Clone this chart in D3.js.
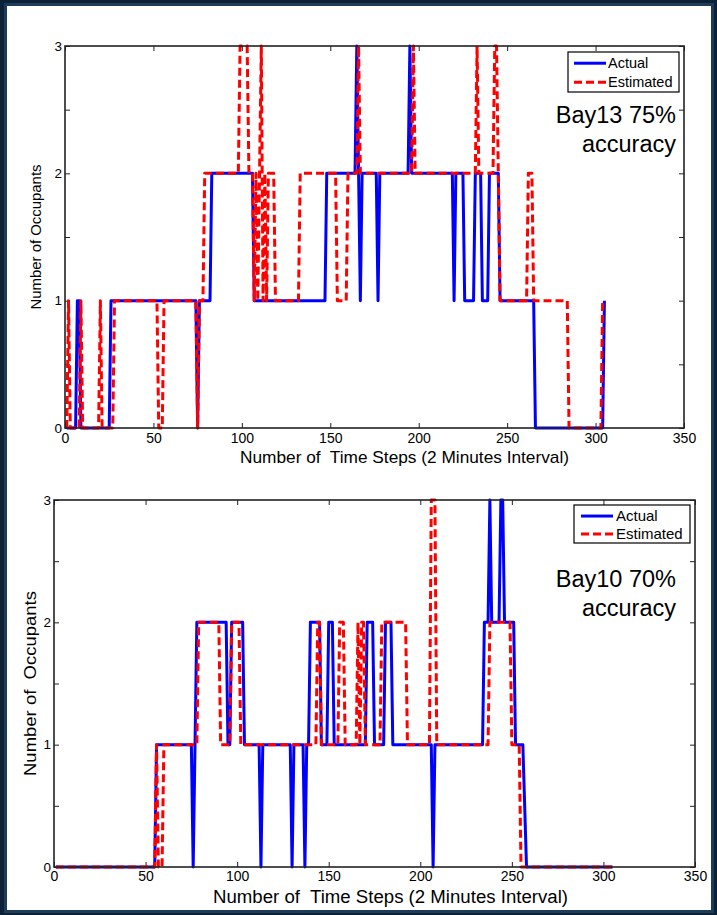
<!DOCTYPE html>
<html>
<head>
<meta charset="utf-8">
<script src="https://cdn.jsdelivr.net/npm/d3@7"></script>
<style>
  html, body { margin: 0; padding: 0; background: #0d2238; }
  svg { display: block; }
  text { font-family: "Liberation Sans", Arial, Helvetica, sans-serif; fill: #000; }
</style>
</head>
<body>
<svg id="chart" width="717" height="915"></svg>
<script>
// ---------------- DATA ----------------
const xTicks = [0, 50, 100, 150, 200, 250, 300, 350];
const yTicks = [0, 0.5, 1, 1.5, 2, 2.5, 3];
const yTickLabels = [0, 1, 2, 3];
const seriesNames = ["Actual", "Estimated"];
const xTitle = "Number of  Time Steps (2 Minutes Interval)";

// Bay13 (top) – vertices of the polylines [time step, occupants]
const bay13Actual = [
  [1,0],[6,0],[7,1],[8,1],[9,0],[25,0],[26,1],[74,1],[75,0],[76,1],[82,1],[83,2],
  [106,2],[107,1],[147,1],[148,2],[164,2],[165,3],[166,2],[167,1],[168,2],[176,2],
  [177,1],[178,2],[194,2],[195,3],[196,2],[219,2],[220,1],[221,2],[225,2],[226,1],
  [231,1],[232,2],[235,2],[236,1],[239,1],[240,2],[245,2],[246,1],[265,1],[266,0],
  [304,0],[305,1]
];
const bay13Estimated = [
  [1,0],[2,1],[3,0],[8,0],[9,1],[10,0],[19,0],[20,1],[21,0],[27,0],[28,1],[52,1],
  [53,0],[55,0],[56,1],[74,1],[75,0],[76,1],[78,1],[79,2],[98,2],[99,3],[103,3],
  [104,2],[106,2],[107,1],[108,2],[109,1],[110,2],[111,3],[112,1],[113,2],[114,1],
  [115,2],[118,2],[119,1],[132,1],[133,2],[153,2],[154,1],[159,1],[160,2],[165,2],
  [166,3],[167,2],[196,2],[197,3],[198,2],[232,2],[233,3],[234,2],[242,2],[243,3],
  [244,3],[245,2],[246,1],[261,1],[262,2],[264,2],[265,1],[284,1],[285,0],[303,0],
  [304,1]
];

// Bay10 (bottom)
const bay10Actual = [
  [1,0],[55,0],[56,1],[75,1],[76,0],[77,1],[78,2],[94,2],[95,1],[96,1],[97,2],
  [103,2],[104,1],[112,1],[113,0],[114,1],[129,1],[130,0],[131,1],[136,1],[137,0],
  [138,1],[139,1],[140,2],[145,2],[146,1],[149,1],[150,2],[152,2],[153,1],[170,1],
  [171,2],[174,2],[175,1],[180,1],[181,2],[184,2],[185,1],[206,1],[207,0],[208,1],
  [234,1],[235,2],[237,2],[238,3],[239,2],[243,2],[244,3],[245,3],[246,2],[251,2],
  [252,1],[256,1],[258,0],[305,0]
];
const bay10Estimated = [
  [1,0],[55,0],[56,1],[57,0],[59,0],[60,1],[78,1],[79,2],[90,2],[91,1],[96,1],
  [97,2],[101,2],[102,1],[143,1],[144,2],[145,2],[146,1],[155,1],[156,2],[158,2],
  [159,1],[165,1],[166,2],[167,1],[168,2],[169,2],[170,1],[178,1],[179,2],[192,2],
  [193,1],[205,1],[206,3],[208,3],[209,1],[237,1],[238,2],[249,2],[250,1],[254,1],
  [255,0],[305,0]
];

// ---------------- LAYOUT ----------------
const panels = [
  { actual: bay13Actual, estimated: bay13Estimated,
    x0: 65, x1: 684, yTop: 46, yBot: 428,
    yTitle: "Number of Occupants", yTitleX: 36, yTitleSize: 14.5, yTitleLen: 145,
    xTitleY: 463, xTitleSize: 17, xTitleLen: 329, xTitleX: 240,
    tickSize: 14, yTickSize: 13.5, tickPad: 5,
    note: ["Bay13 75%", "accuracy"], noteX: 676, noteY: [123, 152], noteSize: 23.5,
    legend: { x: 568, y: 52, w: 111, h: 40, fs: 14.5, lx0: 574, lx1: 606, tx: 608, ty: [68, 87] } },
  { actual: bay10Actual, estimated: bay10Estimated,
    x0: 54, x1: 695, yTop: 500, yBot: 867,
    yTitle: "Number of  Occupants", yTitleX: 30, yTitleSize: 16.5, yTitleLen: 185,
    xTitleY: 903, xTitleSize: 18, xTitleLen: 355, xTitleX: 213,
    tickSize: 14, yTickSize: 13.5, tickPad: 4,
    note: ["Bay10 70%", "accuracy"], noteX: 676, noteY: [587, 616], noteSize: 23.5,
    legend: { x: 574, y: 505, w: 116, h: 38, fs: 15, lx0: 581, lx1: 613, tx: 616, ty: [521, 539] } }
];

const svg = d3.select("#chart");

// background frame
svg.append("rect").attr("x", 0).attr("y", 0).attr("width", 717).attr("height", 915).attr("fill", "#0c2036");
svg.append("rect").attr("x", 4).attr("y", 3).attr("width", 710).attr("height", 910).attr("fill", "#1d3b5b");
svg.append("rect").attr("x", 7).attr("y", 6).attr("width", 704).attr("height", 904).attr("fill", "#ffffff");

panels.forEach(p => {
  const g = svg.append("g");
  const x = d3.scaleLinear().domain([0, 350]).range([p.x0, p.x1]);
  const y = d3.scaleLinear().domain([0, 3]).range([p.yBot, p.yTop]);

  // axes with inward ticks
  const fmtY = d => (yTickLabels.includes(d) ? String(d) : "");
  const axB = g.append("g").attr("transform", `translate(0,${p.yBot})`)
    .call(d3.axisBottom(x).tickValues(xTicks).tickSizeInner(-5).tickSizeOuter(0).tickPadding(p.tickPad));
  axB.selectAll("text").attr("font-size", p.tickSize).attr("font-family", null);
  const axT = g.append("g").attr("transform", `translate(0,${p.yTop})`)
    .call(d3.axisTop(x).tickValues(xTicks).tickSizeInner(-5).tickSizeOuter(0).tickFormat(""));
  const axL = g.append("g").attr("transform", `translate(${p.x0},0)`)
    .call(d3.axisLeft(y).tickValues(yTicks).tickSizeInner(-5).tickSizeOuter(0).tickPadding(3).tickFormat(fmtY));
  axL.selectAll("text").attr("font-size", p.yTickSize).attr("font-family", null);
  const axR = g.append("g").attr("transform", `translate(${p.x1},0)`)
    .call(d3.axisRight(y).tickValues(yTicks).tickSizeInner(-5).tickSizeOuter(0).tickFormat(""));
  [axB, axT, axL, axR].forEach(a => {
    a.select(".domain").remove();
    a.selectAll("line").attr("stroke", "#222").attr("stroke-width", 1);
  });

  // lines
  const line = d3.line().x(d => x(d[0])).y(d => y(d[1]));
  g.append("path").datum(p.actual).attr("d", line)
    .attr("fill", "none").attr("stroke", "#0000ff").attr("stroke-width", 3)
    .attr("stroke-linejoin", "round");
  g.append("path").datum(p.estimated).attr("d", line)
    .attr("fill", "none").attr("stroke", "#ff0000").attr("stroke-width", 3)
    .attr("stroke-dasharray", "8,4").attr("stroke-linejoin", "round");

  // box
  g.append("rect").attr("x", p.x0).attr("y", p.yTop)
    .attr("width", p.x1 - p.x0).attr("height", p.yBot - p.yTop)
    .attr("fill", "none").attr("stroke", "#222").attr("stroke-width", 1.6);

  // axis titles
  g.append("text").attr("x", p.xTitleX).attr("y", p.xTitleY)
    .attr("font-size", p.xTitleSize).attr("textLength", p.xTitleLen)
    .attr("lengthAdjust", "spacingAndGlyphs").style("white-space", "pre")
    .attr("xml:space", "preserve").text(xTitle);
  const yMid = (p.yTop + p.yBot) / 2;
  g.append("text")
    .attr("transform", `translate(${p.yTitleX + p.yTitleSize * 0.36},${yMid}) rotate(-90)`)
    .attr("text-anchor", "middle").attr("font-size", p.yTitleSize)
    .attr("textLength", p.yTitleLen).attr("lengthAdjust", "spacingAndGlyphs")
    .style("white-space", "pre").attr("xml:space", "preserve").text(p.yTitle);

  // legend
  const L = p.legend;
  g.append("rect").attr("x", L.x).attr("y", L.y).attr("width", L.w).attr("height", L.h)
    .attr("fill", "#fff").attr("stroke", "#000").attr("stroke-width", 1.2);
  seriesNames.forEach((name, i) => {
    const ly = L.ty[i] - L.fs * 0.33;
    g.append("line").attr("x1", L.lx0).attr("x2", L.lx1).attr("y1", ly).attr("y2", ly)
      .attr("stroke", i === 0 ? "#0000ff" : "#ff0000").attr("stroke-width", 3)
      .attr("stroke-dasharray", i === 0 ? null : "8,4");
    g.append("text").attr("x", L.tx).attr("y", L.ty[i]).attr("font-size", L.fs).text(name);
  });

  // annotation
  p.note.forEach((t, i) => {
    g.append("text").attr("x", p.noteX).attr("y", p.noteY[i]).attr("text-anchor", "end")
      .attr("font-size", p.noteSize).text(t);
  });
});
</script>
</body>
</html>
